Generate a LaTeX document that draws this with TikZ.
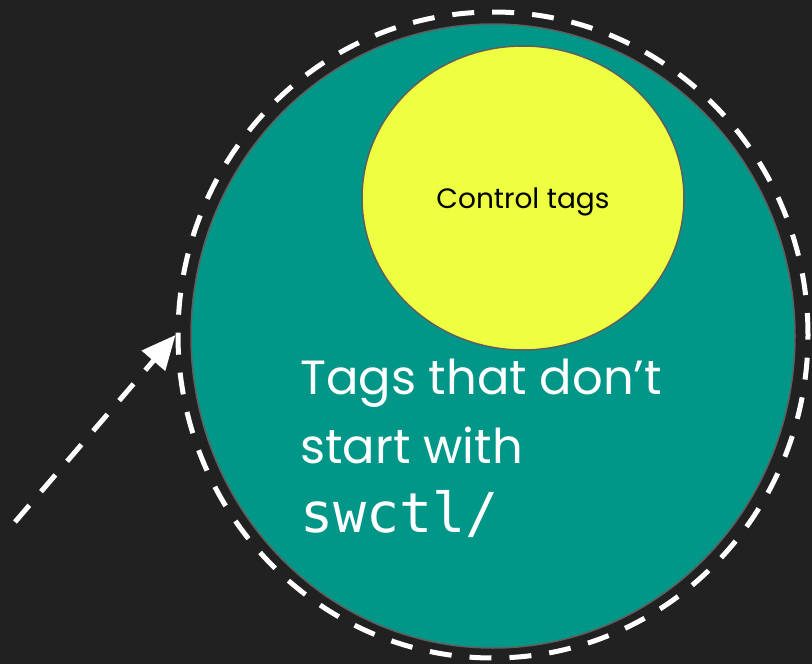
\documentclass[tikz,border=0pt]{standalone}
\usepackage{fontspec}
\usepackage{xcolor}
\usepackage{tikz}
\usetikzlibrary{arrows.meta,shapes.geometric}

\newfontfamily\labelfont{Poppins}
\newfontfamily\codefont{DejaVu Sans Mono}
\definecolor{bg}{HTML}{212121}
\definecolor{teal}{HTML}{009688}
\definecolor{lime}{HTML}{EEFF41}
\definecolor{rim}{HTML}{5F5F5F}

\begin{document}
\begin{tikzpicture}[x=1pt,y=-1pt,
    set/.style={ellipse,draw=rim,line width=1.5pt,inner sep=0pt},
    boundary/.style={ellipse,draw=white,line width=5pt,dash pattern=on 22pt off 18pt,inner sep=0pt},
    pointer/.style={draw=white,line width=5pt,dash pattern=on 22pt off 18pt,-{Triangle[length=34pt,width=30pt]}}]
            \fill[bg] (0,0) rectangle (812,664);
            \useasboundingbox (0,0) rectangle (812,664);

            \node[boundary, minimum width=630pt, minimum height=646pt] (outer) at (493,335) {};
            \node[set, fill=teal, minimum width=604pt, minimum height=624pt] (all) at (493,336) {};
            \node[set, fill=lime, minimum width=322pt, minimum height=304pt] (ctrl) at (523,198) {};
            \node[font=\labelfont\fontsize{28}{32}\selectfont] (ctrllabel) at (523,202) {Control tags};

            \node[anchor=north west, inner sep=0pt, align=left, text=white,
                  font=\labelfont\fontsize{48}{67}\selectfont] (rest) at (300,359)
                {Tags that don’t\\[2pt]start with\\[2pt]{\codefont\fontsize{55}{67}\selectfont swctl/}};

            \coordinate (start) at (15,522);
            \draw[pointer] (start) -- (outer.west);
        \end{tikzpicture}
\end{document}
